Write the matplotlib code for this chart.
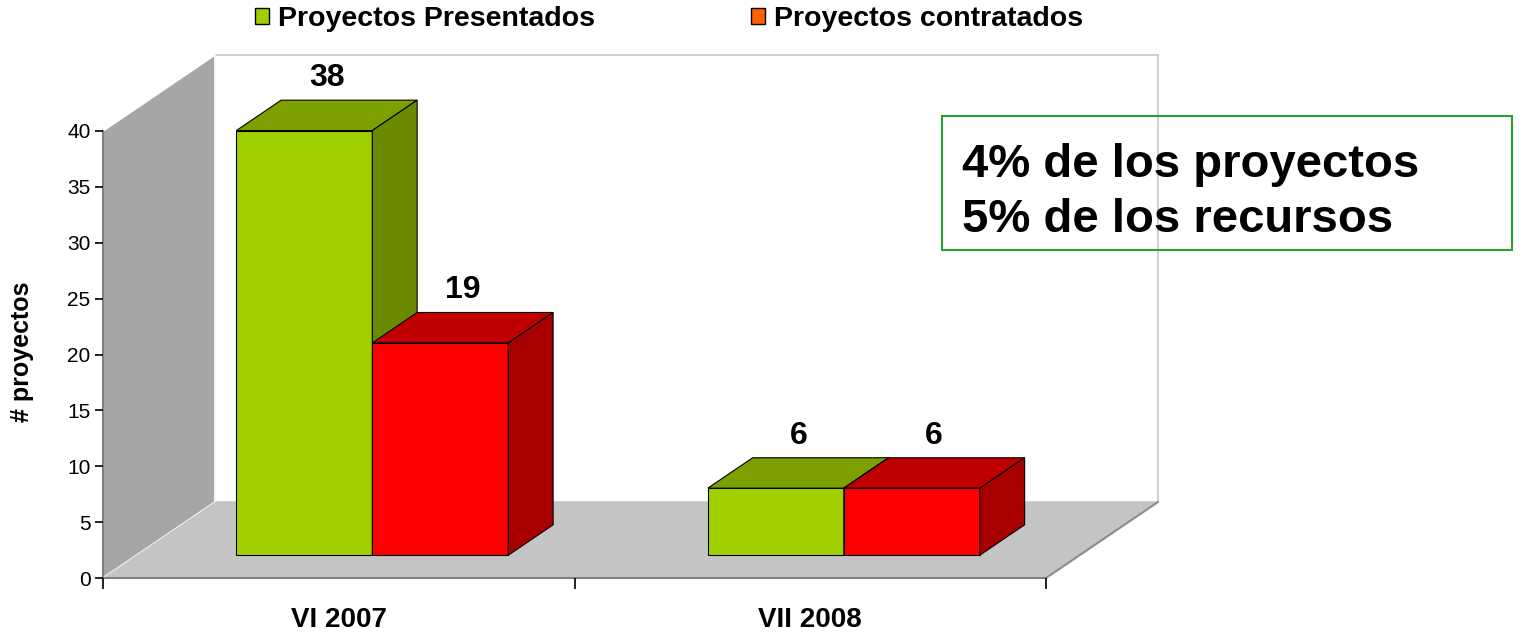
import matplotlib
matplotlib.use("Agg")
import matplotlib.pyplot as plt
from matplotlib.patches import Polygon, Rectangle, Patch

plt.rcParams['font.family'] = ['Liberation Sans', 'DejaVu Sans']

categories = ['VI 2007', 'VII 2008']
presentados = [38, 6]
contratados = [19, 6]
series_names = ['Proyectos Presentados', 'Proyectos contratados']
note_lines = ['4% de los proyectos', '5% de los recursos']
yticks = [0, 5, 10, 15, 20, 25, 30, 35, 40]

# front / top / side shades
GREEN = ('#A0D000', '#7BA000', '#6B8A00')
RED = ('#FF0000', '#C00000', '#A80000')
LEGEND_COLORS = ['#A0D000', '#FF6000']

# fake 3d: depth of the floor in data units, bar depth range, bar width
DX, DY = 0.2375, 6.8
F0, F1 = 0.30, 0.70
W = 0.2884

fig = plt.figure(figsize=(15.25, 6.36), dpi=100)
ax = fig.add_axes([103 / 1525, 58 / 636, 943 / 1525, 447 / 636])
ax.set_xlim(0, len(categories))
ax.set_ylim(0, 40)
ax.patch.set_visible(False)


def poly(pts, fc, ec, lw=1.0, z=1):
    ax.add_patch(Polygon(pts, closed=True, facecolor=fc, edgecolor=ec,
                         linewidth=lw, zorder=z, clip_on=False))


n = len(categories)
ymax = 40
# back wall, side wall, floor
poly([(DX, DY), (n + DX, DY), (n + DX, ymax + DY), (DX, ymax + DY)], 'white', '#C8C8C8', 1.2, 0.2)
poly([(0, 0), (0, ymax), (DX, ymax + DY), (DX, DY)], '#A6A6A6', 'white', 1.2, 0.5)
poly([(0, 0), (n, 0), (n + DX, DY), (DX, DY)], '#C4C4C4', 'none', 0, 0.6)
ax.plot([n, n + DX], [0, DY], color='#8C8C8C', lw=1.5, clip_on=False, zorder=0.7)


def bar3d(x0, v, colors):
    b = F0 * DY
    ddx, ddy = (F1 - F0) * DX, (F1 - F0) * DY
    front, top, side = colors
    poly([(x0, b), (x0 + W, b), (x0 + W, b + v), (x0, b + v)], front, 'black', 0.8, 3)
    poly([(x0, b + v), (x0 + W, b + v), (x0 + W + ddx, b + v + ddy), (x0 + ddx, b + v + ddy)],
         top, 'black', 0.8, 3)
    poly([(x0 + W, b), (x0 + W + ddx, b + ddy), (x0 + W + ddx, b + v + ddy), (x0 + W, b + v)],
         side, 'black', 0.8, 3)
    ax.annotate(str(v), (x0 + W / 2 + ddx / 2, b + v + ddy), xytext=(0, 16),
                textcoords='offset points', ha='center', va='center',
                fontsize=23, fontweight='bold', zorder=5, annotation_clip=False)


for i in range(n):
    c = i + 0.5 + F0 * DX
    bar3d(c - W, presentados[i], GREEN)
    bar3d(c, contratados[i], RED)

for s in ['top', 'right']:
    ax.spines[s].set_visible(False)
ax.spines['left'].set_color('#808080')
ax.spines['bottom'].set_color('#808080')
ax.spines['left'].set_linewidth(1.5)
ax.spines['bottom'].set_linewidth(1.5)
ax.spines['left'].set_zorder(1)
ax.spines['bottom'].set_zorder(1)

ax.set_yticks(yticks)
ax.tick_params(axis='y', length=6, width=1.2, labelsize=15, pad=3)
ax.set_xticks(range(n + 1))
ax.set_xticklabels([])
ax.set_xticks([i + 0.5 for i in range(n)], minor=True)
ax.set_xticklabels(categories, minor=True, fontsize=20, fontweight='bold')
ax.tick_params(axis='x', which='major', length=8, width=1.2)
ax.tick_params(axis='x', which='minor', length=0, pad=21)

fig.text(22 / 1525, 1 - 352 / 636, '# proyectos', rotation=90, ha='center', va='center',
         fontsize=18, fontweight='bold')

handles = [Patch(facecolor=c, edgecolor='black', linewidth=1) for c in LEGEND_COLORS]
fig.legend(handles, series_names, loc='center', bbox_to_anchor=(669 / 1525, 1 - 19 / 636),
           ncol=2, frameon=False, prop={'weight': 'bold', 'size': 20.5},
           handlelength=0.5, handleheight=0.5, handletextpad=0.3, columnspacing=5.5)

fig.add_artist(Rectangle((942 / 1525, 1 - 250 / 636), 570 / 1525, 134 / 636,
                         transform=fig.transFigure, fill=False, edgecolor='#2CA02C', lw=1.5))
for k, line in enumerate(note_lines):
    fig.text(962 / 1525, 1 - (177 + 55 * k) / 636, line, va='baseline', ha='left',
             fontsize=34, fontweight='bold')

fig.savefig('out.png', dpi=100)
